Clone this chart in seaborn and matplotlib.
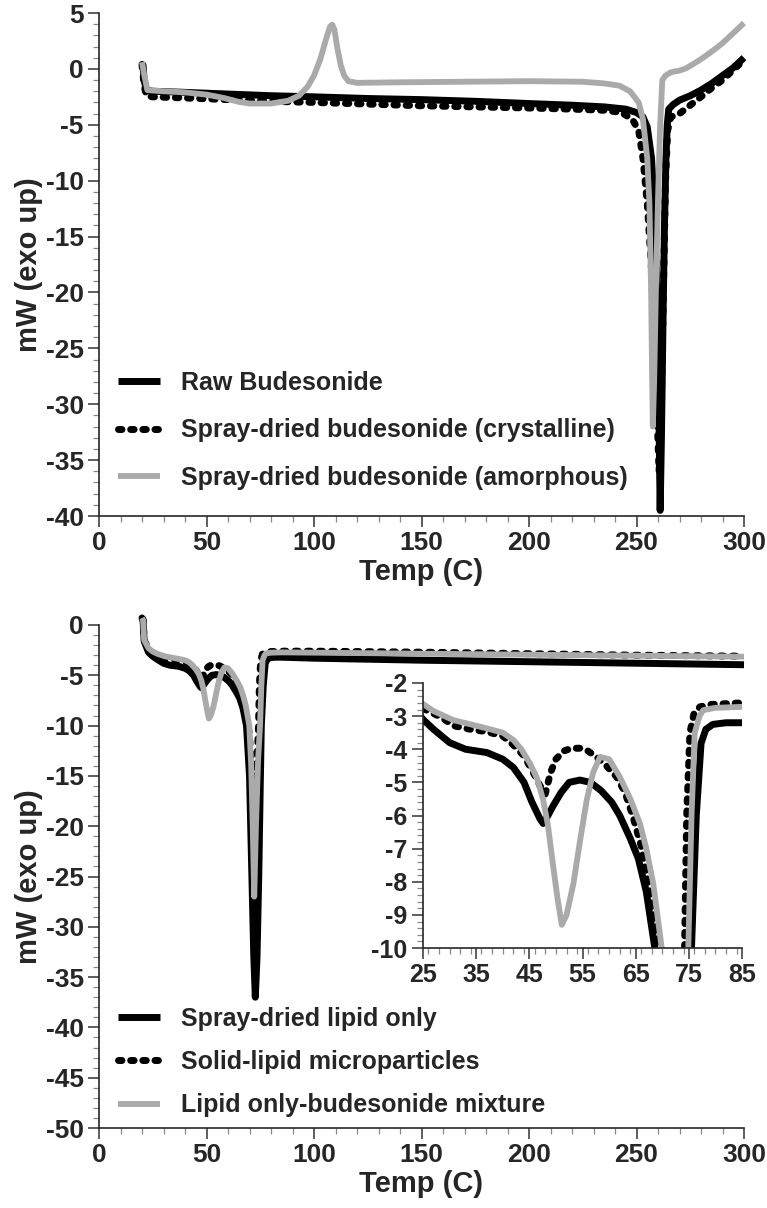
import numpy as np
import matplotlib
matplotlib.use("Agg")
import matplotlib.pyplot as plt
import seaborn as sns
from matplotlib.ticker import MultipleLocator

# ---- top panel: budesonide DSC traces ----
raw_x = [20, 20.5, 21, 22, 25, 40, 60, 80, 100, 125, 150, 175, 200, 220, 235, 245, 250, 253, 255,
         257, 258, 259, 259.8, 260.5, 261, 261.6, 262.3, 263, 263.7, 264.3, 265, 267, 270, 275, 280,
         285, 290, 295, 300]
raw_y = [0.5, 0.3, -1.0, -1.9, -2.0, -2.1, -2.25, -2.4, -2.5, -2.65, -2.75, -2.9, -3.1, -3.25, -3.4,
         -3.6, -3.9, -4.3, -5.2, -8, -11.7, -17, -24, -32, -39.5, -33, -23, -14, -8, -5, -3.6, -3.2,
         -2.8, -2.4, -1.9, -1.3, -0.6, 0.1, 1.0]

cryst_x = [20, 21, 22, 25, 40, 60, 80, 100, 125, 150, 175, 200, 220, 235, 243, 248, 251, 253, 255,
           257, 259, 260.5, 261.5, 262.5, 263.5, 264.5, 266, 270, 276, 280, 285, 290, 295, 300]
cryst_y = [0.4, -1.5, -2.4, -2.5, -2.6, -2.75, -2.9, -3.0, -3.15, -3.3, -3.4, -3.5, -3.6, -3.7, -3.9,
           -4.5, -5.5, -8, -12, -18, -28, -36, -30, -20, -10, -5.5, -4.3, -4.0, -3.1, -2.5, -1.7,
           -1.0, -0.1, 0.8]

amorph_x = [20, 21, 22.5, 30, 40, 50, 58, 65, 70, 80, 88, 93, 97, 100, 103, 105.5, 107.5, 108.5,
            109.5, 111, 112.5, 114, 116, 120, 140, 170, 200, 225, 235, 242, 247, 251, 253, 255, 256,
            256.8, 257.3, 257.6, 258.2, 259, 260, 261, 262, 263.5, 266, 270, 273, 277, 281, 286,
            290, 295, 300]
amorph_y = [0.6, -0.5, -1.9, -2.0, -2.1, -2.3, -2.6, -2.95, -3.1, -3.1, -2.85, -2.4, -1.6, -0.6, 0.9,
            2.6, 3.8, 3.95, 3.5, 1.7, 0.3, -0.6, -1.1, -1.25, -1.2, -1.15, -1.1, -1.15, -1.3, -1.5,
            -2.0, -3.0, -4.5, -8, -12, -20, -28, -32, -28, -20, -11.7, -5, -1.0, -0.6, -0.3, -0.15,
            0.05, 0.5, 1.0, 1.7, 2.3, 3.2, 4.1]

# ---- bottom panel: lipid DSC traces ----
lipid_x = [20, 20.5, 21, 23, 25, 27, 30, 33, 37, 40, 42, 44, 45.5, 47, 47.6, 48.5, 49.5, 51, 52.5,
           54.5, 56.5, 58.5, 60.5, 62, 64, 65.5, 67, 68.6, 70, 71, 72, 72.7, 73.5, 74.3, 75, 75.5,
           76.4, 77.3, 78.2, 79.5, 82, 85, 100, 150, 200, 250, 300]
lipid_y = [0.7, 0.5, -1.6, -2.7, -3.1, -3.4, -3.8, -4.0, -4.1, -4.3, -4.55, -5.0, -5.6, -6.1, -6.24,
           -6.0, -5.7, -5.3, -5.0, -4.93, -5.0, -5.25, -5.6, -6.0, -6.7, -7.3, -8.3, -10, -15, -24,
           -33, -37, -33, -25, -16, -10, -6.0, -3.82, -3.4, -3.25, -3.2, -3.2, -3.3, -3.5, -3.65,
           -3.8, -3.95]

slm_x = [20, 20.5, 21, 23, 25, 28, 31, 34, 37, 40, 42, 44, 45.5, 47, 48, 49, 50, 51.5, 53, 54.5, 56,
         57.6, 59.5, 61.4, 63, 64.5, 66, 67.1, 68.3, 69.5, 70.5, 71.5, 72.5, 73.2, 73.8, 74.2, 74.6,
         75.2, 76, 77.1, 79, 85, 100, 150, 200, 250, 300]
slm_y = [0.7, 0.5, -1.5, -2.4, -2.77, -3.0, -3.3, -3.4, -3.47, -3.6, -3.87, -4.2, -4.63, -5.1, -5.35,
         -4.7, -4.3, -4.05, -3.97, -3.97, -4.05, -4.23, -4.5, -4.83, -5.3, -6.04, -6.9, -7.85, -8.9,
         -10, -12.5, -15, -17, -15, -12, -10, -6.0, -3.5, -2.9, -2.72, -2.65, -2.6, -2.6, -2.7,
         -2.85, -3.0, -3.1]

mix_x = [20, 20.5, 21, 23, 24.8, 27, 30.7, 34, 37, 40, 42, 43.5, 45.1, 46.5, 47.6, 48.5, 49.5, 50.3,
         51.1, 52, 53.3, 54.5, 55.8, 57, 58.3, 60, 62, 64, 65.8, 67, 68.3, 69.9, 70.8, 71.5, 72.2,
         73, 74, 74.9, 75.5, 76.1, 77, 77.7, 80, 85, 100, 150, 200, 250, 300]
mix_y = [0.7, 0.5, -1.5, -2.3, -2.61, -2.85, -3.12, -3.25, -3.37, -3.5, -3.72, -4.0, -4.42, -4.9,
         -5.53, -6.3, -7.55, -8.5, -9.3, -9.0, -8.05, -6.8, -5.53, -4.7, -4.23, -4.3, -4.83, -5.5,
         -6.24, -7.0, -8.05, -10, -14, -20, -27, -20, -13.4, -10, -6.04, -3.51, -3.0, -2.82, -2.75,
         -2.72, -2.75, -2.85, -2.95, -3.05, -3.15]

top_labels = ["Raw Budesonide", "Spray-dried budesonide (crystalline)",
              "Spray-dried budesonide (amorphous)"]
bottom_labels = ["Spray-dried lipid only", "Solid-lipid microparticles",
                 "Lipid only-budesonide mixture"]

sns.set_style("ticks")
plt.rcParams['font.family'] = ['Liberation Sans', 'DejaVu Sans']
plt.rcParams['font.weight'] = 'bold'
plt.rcParams['axes.labelweight'] = 'bold'
plt.rcParams['axes.unicode_minus'] = False

GRAY = '#aaaaaa'
DOTS = (0, (0.5, 1.25))
solid_kw = dict(color='black', lw=5.0, solid_capstyle='butt', clip_on=False)
dot_kw = dict(color='black', lw=5.0, linestyle=DOTS, dash_capstyle='round', clip_on=False)
gray_kw = dict(color=GRAY, lw=4.2, solid_capstyle='butt', clip_on=False)
LEG_PROP = {'weight': 'bold', 'size': 18}


def style_axis(ax, tick_size=19):
    sns.despine(ax=ax)
    for s in ['left', 'bottom']:
        ax.spines[s].set_linewidth(1.2)
    ax.tick_params(which='major', direction='out', length=8, width=1.1, color='#333333',
                   labelsize=tick_size, pad=3)
    ax.tick_params(which='minor', direction='out', length=4, width=0.9, color='#888888')
    for lab in ax.get_xticklabels() + ax.get_yticklabels():
        lab.set_fontweight('bold')


fig = plt.figure(figsize=(7.67, 12.08), dpi=100)
ax1 = fig.add_axes([99 / 767, 1 - 516 / 1208, 645 / 767, 503 / 1208])
ax2 = fig.add_axes([99 / 767, 1 - 1128 / 1208, 645 / 767, 503 / 1208])
axi = fig.add_axes([423 / 767, 1 - 948 / 1208, 319 / 767, 265 / 1208])

# top panel
sns.lineplot(x=raw_x, y=raw_y, ax=ax1, sort=False, label=top_labels[0], **solid_kw)
sns.lineplot(x=cryst_x, y=cryst_y, ax=ax1, sort=False, label=top_labels[1], **dot_kw)
sns.lineplot(x=amorph_x, y=amorph_y, ax=ax1, sort=False, label=top_labels[2], **gray_kw)
ax1.set_xlim(0, 300)
ax1.set_ylim(-40, 5)
ax1.xaxis.set_major_locator(MultipleLocator(50))
ax1.xaxis.set_minor_locator(MultipleLocator(10))
ax1.yaxis.set_major_locator(MultipleLocator(5))
ax1.yaxis.set_minor_locator(MultipleLocator(1))
ax1.set_xlabel('Temp (C)', fontsize=21, fontweight='bold', labelpad=2)
ax1.set_ylabel('mW (exo up)', fontsize=21, fontweight='bold', labelpad=2)
style_axis(ax1)
ax1.legend(loc='upper left', bbox_to_anchor=(0.0295, 0.288), frameon=False,
           handlelength=1.68, handletextpad=0.84, labelspacing=0.93, borderaxespad=0, borderpad=0,
           prop=LEG_PROP)

# bottom panel
sns.lineplot(x=lipid_x, y=lipid_y, ax=ax2, sort=False, label=bottom_labels[0], **solid_kw)
sns.lineplot(x=slm_x, y=slm_y, ax=ax2, sort=False, label=bottom_labels[1], **dot_kw)
sns.lineplot(x=mix_x, y=mix_y, ax=ax2, sort=False, label=bottom_labels[2], **gray_kw)
ax2.set_xlim(0, 300)
ax2.set_ylim(-50, 0)
ax2.xaxis.set_major_locator(MultipleLocator(50))
ax2.xaxis.set_minor_locator(MultipleLocator(10))
ax2.yaxis.set_major_locator(MultipleLocator(5))
ax2.yaxis.set_minor_locator(MultipleLocator(1))
ax2.set_xlabel('Temp (C)', fontsize=21, fontweight='bold', labelpad=2)
ax2.set_ylabel('mW (exo up)', fontsize=21, fontweight='bold', labelpad=2)
style_axis(ax2)
ax2.legend(loc='upper left', bbox_to_anchor=(0.0295, 0.2406), frameon=False,
           handlelength=1.68, handletextpad=0.84, labelspacing=0.77, borderaxespad=0, borderpad=0,
           prop=LEG_PROP)

# inset zoom of the lipid transitions
inset_kw = [dict(solid_kw, clip_on=True), dict(dot_kw, clip_on=True), dict(gray_kw, clip_on=True)]
sns.lineplot(x=lipid_x, y=lipid_y, ax=axi, sort=False, legend=False, **inset_kw[0])
sns.lineplot(x=slm_x, y=slm_y, ax=axi, sort=False, legend=False, **inset_kw[1])
sns.lineplot(x=mix_x, y=mix_y, ax=axi, sort=False, legend=False, **inset_kw[2])
axi.set_xlim(25, 85)
axi.set_ylim(-10, -2)
axi.set_xticks(np.arange(25, 86, 10))
axi.xaxis.set_minor_locator(MultipleLocator(2))
axi.yaxis.set_major_locator(MultipleLocator(1))
axi.yaxis.set_minor_locator(MultipleLocator(0.2))
axi.set_facecolor('none')
style_axis(axi, tick_size=18)

fig.savefig('out.png', dpi=100)
